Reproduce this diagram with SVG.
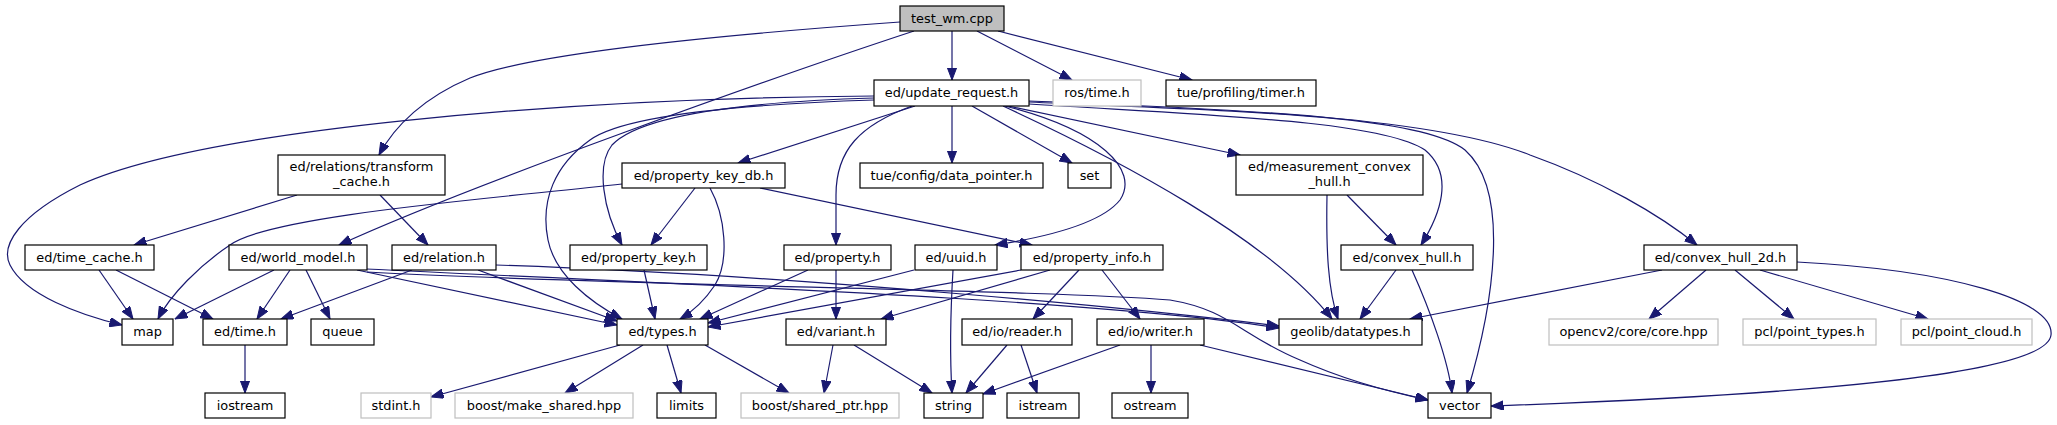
<svg xmlns="http://www.w3.org/2000/svg" width="2057" height="425" viewBox="0 0 2057 425">
<style>
rect{fill:#fff;stroke:#000;stroke-width:1.2}
.g rect{stroke:#bfbfbf}
.r rect{fill:#bfbfbf}
text{font-family:"DejaVu Sans",sans-serif;font-size:12.9px;text-anchor:middle;fill:#000}
#edges path{fill:none;stroke:#191970;stroke-width:1.2;marker-end:url(#a)}
</style>
<defs>
<marker id="a" markerWidth="13" markerHeight="10" refX="12.5" refY="4.75" orient="auto" markerUnits="userSpaceOnUse">
<path d="M0,0 L12.5,4.75 L0,9.5 z" fill="#191970" stroke="#191970" stroke-width="1"/>
</marker>
</defs>
<rect x="0" y="0" width="2057" height="425" style="fill:#fff;stroke:none"/>
<g id="edges">
<path d="M952,31 L952,80"/>
<path d="M977,31 L1072,80"/>
<path d="M998,31 L1192,80"/>
<path d="M900,22 C760,32 540,50 470,78 C425,97 395,125 379,155"/>
<path d="M914,31 C780,75 470,185 339,245"/>
<path d="M874,96 C560,98 200,130 80,185 C20,215 0,245 10,265 C25,295 80,315 122,325"/>
<path d="M874,98 C740,102 640,115 612,145 C596,165 603,210 622,245"/>
<path d="M874,100 C720,105 620,118 590,140 C555,165 540,200 548,240 C555,275 590,302 622,319"/>
<path d="M915,106 L738,163"/>
<path d="M912,106 C860,125 836,150 836,195 L836,245"/>
<path d="M952,106 L952,163"/>
<path d="M972,106 L1072,163"/>
<path d="M1005,106 C1100,130 1140,170 1120,200 C1100,225 1040,238 995,245"/>
<path d="M1003,106 C1120,160 1270,240 1332,319"/>
<path d="M1008,106 L1240,155"/>
<path d="M1029,104 C1200,115 1380,120 1425,150 C1455,175 1440,215 1421,245"/>
<path d="M1029,102 C1250,112 1420,115 1465,150 C1510,190 1495,300 1467,393"/>
<path d="M1029,101 C1200,108 1430,115 1530,155 C1600,180 1660,215 1697,245"/>
<path d="M297,195 L134,245"/>
<path d="M380,195 L428,245"/>
<path d="M622,184 C500,198 270,215 230,245 C200,265 170,295 158,319"/>
<path d="M695,188 L651,245"/>
<path d="M710,188 C725,215 730,260 715,285 C705,300 692,312 680,319"/>
<path d="M760,188 L1032,245"/>
<path d="M1327,195 C1326,250 1328,290 1338,319"/>
<path d="M1347,195 L1396,245"/>
<path d="M99,270 L133,319"/>
<path d="M116,270 L213,319"/>
<path d="M274,270 L175,319"/>
<path d="M290,270 L257,319"/>
<path d="M306,270 L330,319"/>
<path d="M357,270 L617,325"/>
<path d="M366,269 C700,285 1100,300 1279,328"/>
<path d="M367,272 C600,285 1050,290 1170,300 C1230,310 1240,335 1300,360 C1340,378 1390,392 1428,400"/>
<path d="M412,270 L281,319"/>
<path d="M478,270 L617,321"/>
<path d="M496,265 C800,275 1150,310 1279,326"/>
<path d="M644,270 L655,319"/>
<path d="M808,270 L700,319"/>
<path d="M836,270 L836,319"/>
<path d="M914,270 L708,323"/>
<path d="M953,270 C950,320 950,360 952,393"/>
<path d="M1021,270 L708,327"/>
<path d="M1050,270 L881,319"/>
<path d="M1079,270 L1033,319"/>
<path d="M1102,270 L1140,319"/>
<path d="M1396,270 L1360,319"/>
<path d="M1412,270 C1430,310 1448,360 1452,393"/>
<path d="M1662,270 L1410,319"/>
<path d="M1706,270 L1649,319"/>
<path d="M1735,270 L1794,319"/>
<path d="M1760,270 L1928,319"/>
<path d="M1797,262 C1950,270 2055,300 2051,335 C2047,375 1800,395 1491,406"/>
<path d="M245,345 L245,393"/>
<path d="M620,345 L431,397"/>
<path d="M643,345 L565,393"/>
<path d="M667,345 L681,393"/>
<path d="M705,345 L789,393"/>
<path d="M833,345 L824,393"/>
<path d="M854,345 L932,393"/>
<path d="M1007,345 L966,393"/>
<path d="M1021,345 L1037,393"/>
<path d="M1120,345 L983,394"/>
<path d="M1151,345 L1151,393"/>
<path d="M1200,345 L1428,400"/>
</g>
<g id="test_wm" class="r"><rect x="900" y="6" width="104" height="25"/><text x="952" y="22.5">test_wm.cpp</text></g>
<g id="update_request"><rect x="874" y="80" width="155" height="26"/><text x="951.5" y="97">ed/update_request.h</text></g>
<g id="ros_time" class="g"><rect x="1053" y="80" width="88" height="26"/><text x="1097" y="97">ros/time.h</text></g>
<g id="timer"><rect x="1166" y="80" width="150" height="26"/><text x="1241" y="97">tue/profiling/timer.h</text></g>
<g id="transform_cache"><rect x="278" y="155" width="167" height="40"/><text x="361.5" y="170.5">ed/relations/transform</text><text x="361.5" y="185.5">_cache.h</text></g>
<g id="property_key_db"><rect x="622" y="163" width="163" height="25"/><text x="703.5" y="179.5">ed/property_key_db.h</text></g>
<g id="data_pointer"><rect x="860" y="163" width="183" height="25"/><text x="951.5" y="179.5">tue/config/data_pointer.h</text></g>
<g id="set"><rect x="1068" y="163" width="43" height="25"/><text x="1089.5" y="179.5">set</text></g>
<g id="measurement_convex_hull"><rect x="1236" y="155" width="187" height="40"/><text x="1329.5" y="170.5">ed/measurement_convex</text><text x="1329.5" y="185.5">_hull.h</text></g>
<g id="time_cache"><rect x="25" y="245" width="129" height="25"/><text x="89.5" y="261.5">ed/time_cache.h</text></g>
<g id="world_model"><rect x="229" y="245" width="138" height="25"/><text x="298" y="261.5">ed/world_model.h</text></g>
<g id="relation"><rect x="392" y="245" width="104" height="25"/><text x="444" y="261.5">ed/relation.h</text></g>
<g id="property_key"><rect x="570" y="245" width="137" height="25"/><text x="638.5" y="261.5">ed/property_key.h</text></g>
<g id="property"><rect x="784" y="245" width="107" height="25"/><text x="837.5" y="261.5">ed/property.h</text></g>
<g id="uuid"><rect x="915" y="245" width="82" height="25"/><text x="956" y="261.5">ed/uuid.h</text></g>
<g id="property_info"><rect x="1021" y="245" width="142" height="25"/><text x="1092" y="261.5">ed/property_info.h</text></g>
<g id="convex_hull"><rect x="1341" y="245" width="132" height="25"/><text x="1407" y="261.5">ed/convex_hull.h</text></g>
<g id="convex_hull_2d"><rect x="1644" y="245" width="153" height="25"/><text x="1720.5" y="261.5">ed/convex_hull_2d.h</text></g>
<g id="map"><rect x="122" y="319" width="51" height="26"/><text x="147.5" y="336">map</text></g>
<g id="time"><rect x="203" y="319" width="84" height="26"/><text x="245" y="336">ed/time.h</text></g>
<g id="queue"><rect x="311" y="319" width="63" height="26"/><text x="342.5" y="336">queue</text></g>
<g id="types"><rect x="617" y="319" width="91" height="26"/><text x="662.5" y="336">ed/types.h</text></g>
<g id="variant"><rect x="786" y="319" width="100" height="26"/><text x="836" y="336">ed/variant.h</text></g>
<g id="reader"><rect x="962" y="319" width="110" height="26"/><text x="1017" y="336">ed/io/reader.h</text></g>
<g id="writer"><rect x="1097" y="319" width="107" height="26"/><text x="1150.5" y="336">ed/io/writer.h</text></g>
<g id="geolib_datatypes"><rect x="1279" y="319" width="143" height="26"/><text x="1350.5" y="336">geolib/datatypes.h</text></g>
<g id="opencv_core" class="g"><rect x="1549" y="319" width="169" height="26"/><text x="1633.5" y="336">opencv2/core/core.hpp</text></g>
<g id="point_types" class="g"><rect x="1743" y="319" width="133" height="26"/><text x="1809.5" y="336">pcl/point_types.h</text></g>
<g id="point_cloud" class="g"><rect x="1901" y="319" width="131" height="26"/><text x="1966.5" y="336">pcl/point_cloud.h</text></g>
<g id="iostream"><rect x="205" y="393" width="80" height="25"/><text x="245" y="409.5">iostream</text></g>
<g id="stdint" class="g"><rect x="361" y="393" width="70" height="25"/><text x="396" y="409.5">stdint.h</text></g>
<g id="make_shared" class="g"><rect x="455" y="393" width="178" height="25"/><text x="544" y="409.5">boost/make_shared.hpp</text></g>
<g id="limits"><rect x="657" y="393" width="59" height="25"/><text x="686.5" y="409.5">limits</text></g>
<g id="shared_ptr" class="g"><rect x="741" y="393" width="158" height="25"/><text x="820" y="409.5">boost/shared_ptr.hpp</text></g>
<g id="string"><rect x="924" y="393" width="59" height="25"/><text x="953.5" y="409.5">string</text></g>
<g id="istream"><rect x="1007" y="393" width="72" height="25"/><text x="1043" y="409.5">istream</text></g>
<g id="ostream"><rect x="1112" y="393" width="76" height="25"/><text x="1150" y="409.5">ostream</text></g>
<g id="vector"><rect x="1428" y="393" width="63" height="25"/><text x="1459.5" y="409.5">vector</text></g>
</svg>
